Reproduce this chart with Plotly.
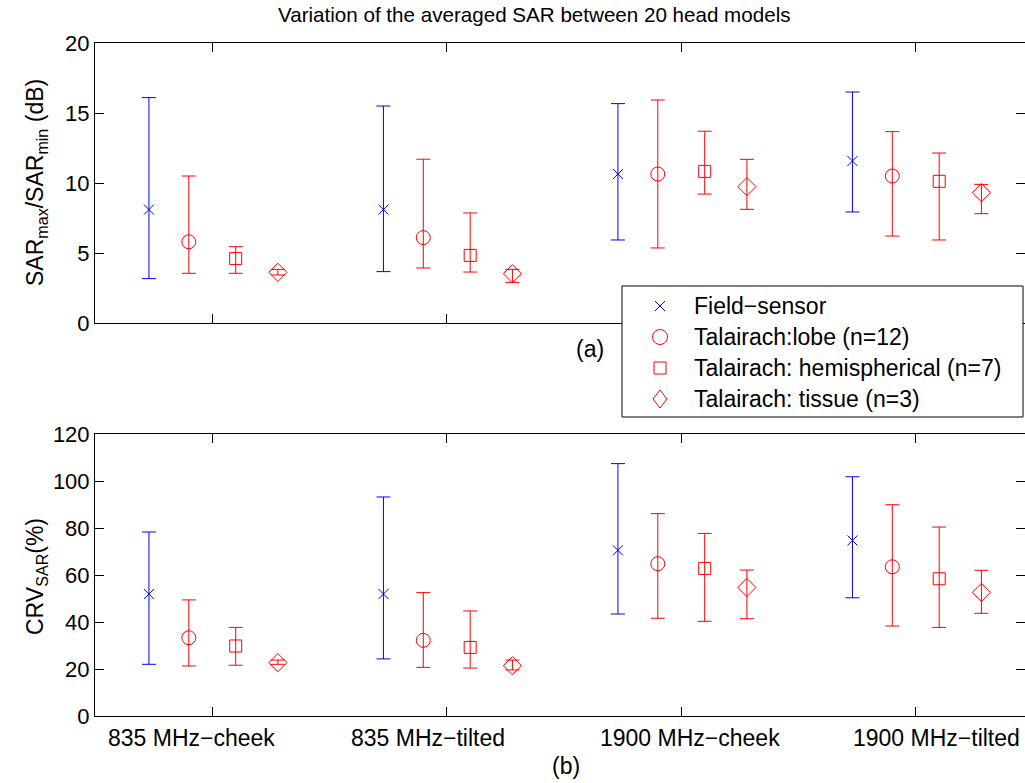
import plotly.graph_objects as go

categories = ["835 MHz−cheek", "835 MHz−tilted", "1900 MHz−cheek", "1900 MHz−tilted"]
series_names = ["Field−sensor", "Talairach:lobe (n=12)", "Talairach: hemispherical (n=7)", "Talairach: tissue (n=3)"]
offsets = [-0.27, -0.1, 0.1, 0.28]
label_shift = [-0.088, -0.078, 0.037, 0.09]
symbols = ["x-thin-open", "circle-open", "square-open", "diamond-open"]
marker_sizes = [10, 14, 12, 14]
colors = ["#0000ff", "#ff0000", "#ff0000", "#ff0000"]

# Panel (a): SARmax/SARmin (dB)
sar_mid = [
    [8.1, 8.1, 10.64, 11.57],
    [5.8, 6.1, 10.64, 10.5],
    [4.6, 4.83, 10.83, 10.12],
    [3.62, 3.52, 9.74, 9.31],
]
sar_hi = [
    [16.1, 15.5, 15.67, 16.5],
    [10.5, 11.7, 15.93, 13.67],
    [5.45, 7.86, 13.7, 12.14],
    [3.83, 3.83, 11.69, 9.9],
]
sar_lo = [
    [3.17, 3.67, 5.93, 7.93],
    [3.55, 3.93, 5.36, 6.21],
    [3.55, 3.64, 9.21, 5.93],
    [3.43, 2.9, 8.12, 7.81],
]

# Panel (b): CRV_SAR (%)
crv_mid = [
    [51.9, 51.9, 70.5, 74.7],
    [33.3, 32.2, 64.8, 63.5],
    [29.8, 29.2, 62.8, 58.4],
    [22.7, 21.4, 54.7, 52.6],
]
crv_hi = [
    [78.3, 93.2, 107.4, 101.8],
    [49.4, 52.5, 86.1, 89.9],
    [37.7, 44.7, 77.7, 80.4],
    [23.8, 23.8, 62.1, 62.0],
]
crv_lo = [
    [22.0, 24.3, 43.4, 50.3],
    [21.3, 20.7, 41.6, 38.3],
    [21.6, 20.4, 40.3, 37.7],
    [22.0, 19.6, 41.4, 43.7],
]

FONT = "Liberation Sans, Arial, sans-serif"
FS = 23
W, H = 1025, 783
ML, MR, MT, MB = 95, 0, 43, 67
PW, PH = W - ML - MR, H - MT - MB

def px2x(px):
    return (px - ML) / PW

def py2y(py):
    return (H - MB - py) / PH

fig = go.Figure()

def add_panel(mid, hi, lo, xa, ya):
    for s in range(4):
        xs = [i + 1 + offsets[s] for i in range(4)]
        fig.add_trace(go.Scatter(
            x=xs, y=mid[s], mode="markers", name=series_names[s],
            showlegend=False, xaxis=xa, yaxis=ya,
            marker=dict(symbol=symbols[s], size=marker_sizes[s], color=colors[s],
                        line=dict(color=colors[s], width=1)),
            error_y=dict(type="data", symmetric=False,
                         array=[h - m for h, m in zip(hi[s], mid[s])],
                         arrayminus=[m - l for m, l in zip(mid[s], lo[s])],
                         color=colors[s], thickness=1, width=7),
        ))

add_panel(sar_mid, sar_hi, sar_lo, "x", "y")
add_panel(crv_mid, crv_hi, crv_lo, "x2", "y2")

xr = [0.5, 0.5 + PW / 234.5]
axis_common = dict(showline=True, linecolor="black", linewidth=1, mirror="ticks",
                   ticks="inside", ticklen=9, tickcolor="black", showgrid=False,
                   zeroline=False, tickfont=dict(family=FONT, size=22, color="black"))

def ann(text, x, y, size=FS, xref="paper", angle=0, xanchor="center", color="black"):
    return dict(text=text, xref=xref, yref="paper", x=x, y=y, showarrow=False,
                xanchor=xanchor, yanchor="middle", textangle=angle,
                font=dict(family=FONT, size=size, color=color))

annotations = [
    ann("Variation of the averaged SAR between 20 head models", px2x(534), py2y(15), size=20.6),
    ann("(a)", px2x(590), py2y(349)),
    ann("(b)", px2x(566), py2y(766)),
    ann("SAR<sub>max</sub>/SAR<sub>min</sub> (dB)", px2x(36), py2y(183), angle=-90),
    ann("CRV<sub>SAR</sub>(%)", px2x(36), py2y(576), angle=-90),
]
for i, c in enumerate(categories):
    annotations.append(ann(c, i + 1 + label_shift[i], py2y(738), xref="x2"))

# Legend (drawn as a box with symbols and text, like the original)
leg_box = (622, 1023, 286, 417)
leg_rows = [306, 337, 368, 399]
leg_sym_x = 660
leg_text_x = 692

shapes = [dict(type="rect", xref="paper", yref="paper", layer="above",
               x0=px2x(leg_box[0]), x1=px2x(leg_box[1]), y0=py2y(leg_box[3]), y1=py2y(leg_box[2]),
               fillcolor="white", line=dict(color="black", width=1))]

def sym_shapes(kind, cx, cy, color):
    ln = dict(color=color, width=1)
    base = dict(xref="paper", yref="paper", layer="above", line=ln)
    if kind == "x-thin-open":
        r = 5
        return [dict(type="line", x0=px2x(cx - r), y0=py2y(cy - r), x1=px2x(cx + r), y1=py2y(cy + r), **base),
                dict(type="line", x0=px2x(cx - r), y0=py2y(cy + r), x1=px2x(cx + r), y1=py2y(cy - r), **base)]
    if kind == "circle-open":
        r = 7.5
        return [dict(type="circle", x0=px2x(cx - r), x1=px2x(cx + r), y0=py2y(cy + r), y1=py2y(cy - r), **base)]
    if kind == "square-open":
        r = 6
        return [dict(type="rect", x0=px2x(cx - r), x1=px2x(cx + r), y0=py2y(cy + r), y1=py2y(cy - r), **base)]
    rx, ry = 7, 9
    path = "M {},{} L {},{} L {},{} L {},{} Z".format(
        px2x(cx), py2y(cy - ry), px2x(cx + rx), py2y(cy), px2x(cx), py2y(cy + ry), px2x(cx - rx), py2y(cy))
    return [dict(type="path", path=path, **base)]

for s in range(4):
    shapes += sym_shapes(symbols[s], leg_sym_x, leg_rows[s], colors[s])
    annotations.append(ann(series_names[s], px2x(leg_text_x), py2y(leg_rows[s]), xanchor="left"))

fig.update_layout(
    width=W, height=H,
    margin=dict(l=ML, r=MR, t=MT, b=MB),
    paper_bgcolor="white", plot_bgcolor="white",
    font=dict(family=FONT, size=FS, color="black"),
    xaxis=dict(domain=[0, 1], range=xr, tickvals=[1, 2, 3, 4], showticklabels=False,
               anchor="y", **axis_common),
    yaxis=dict(domain=[py2y(323), 1.0], range=[0, 20], tickvals=[0, 5, 10, 15, 20],
               anchor="x", **axis_common),
    xaxis2=dict(domain=[0, 1], range=xr, tickvals=[1, 2, 3, 4], showticklabels=False,
                anchor="y2", **axis_common),
    yaxis2=dict(domain=[0, py2y(434)], range=[0, 120], tickvals=[0, 20, 40, 60, 80, 100, 120],
                anchor="x2", **axis_common),
    showlegend=False,
    shapes=shapes,
    annotations=annotations,
)

fig.write_html("out.html")
